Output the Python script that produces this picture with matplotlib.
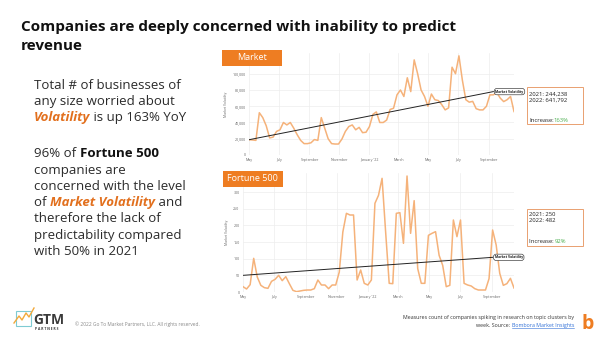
import numpy as np
import pandas as pd
import matplotlib
matplotlib.use('Agg')
from matplotlib import pyplot as plt
from matplotlib.patches import Rectangle
from matplotlib.text import Annotation
from matplotlib.lines import Line2D

plt.rcParams['font.family'] = ['Open Sans', 'DejaVu Sans']

W, H = 600, 337
ORANGE = '#EE7D22'
DARK_ORANGE = '#E2701E'
LINE = '#F5B27A'
TEXT = '#2b2b2b'

# weekly series, first point = start of May 2021
start_date = '2021-05-01'
market_values = [18800, 18500, 18000, 52000, 46000, 36000, 21000, 22000, 29000, 31000,
                 40000, 37000, 40000, 33000, 25000, 18000, 14000, 14000, 15000, 19000,
                 18000, 46000, 33000, 20000, 14000, 13500, 13500, 19600, 29000, 35000,
                 37000, 31000, 34000, 27500, 28000, 35000, 50000, 53000, 40000, 40000,
                 43000, 56000, 57500, 74000, 80000, 72000, 95000, 78000, 117000, 100000,
                 80000, 72000, 60000, 75000, 68000, 67000, 62000, 55500, 58000, 108000,
                 100000, 122000, 92000, 68000, 65000, 66000, 57000, 55500, 55500, 60000,
                 74000, 74000, 77000, 70000, 65700, 68000, 72000, 53500]
market_trend_weeks = [0, 71]
market_trend = [18800, 78000]
market_yticks = [0, 20000, 40000, 60000, 80000, 100000]

fortune_values = [16, 9, 22, 101, 45, 20, 13, 11, 32, 38,
                  50, 34, 46, 25, 5, 1, 3, 5, 6, 6,
                  10, 36, 21, 21, 10, 21, 21, 60, 180, 236,
                  231, 231, 36, 66, 26, 21, 36, 266, 290, 341,
                  180, 26, 25, 236, 238, 146, 348, 176, 274, 70,
                  26, 26, 170, 176, 181, 110, 80, 16, 20, 216,
                  166, 216, 26, 21, 18, 10, 6, 6, 6, 40,
                  186, 141, 56, 20, 25, 41, 12]
fortune_trend_weeks = [0, 70]
fortune_trend = [50, 104]
fortune_yticks = [0, 50, 100, 150, 200, 250, 300]

tick_months = ['2021-05-01', '2021-07-01', '2021-09-01', '2021-11-01', '2022-01-01',
               '2022-03-01', '2022-05-01', '2022-07-01', '2022-09-01']
tick_labels = ['May', 'July', 'September', 'November', "January '22",
               'March', 'May', 'July', 'September']

market_info = ['2021: 244,238', '2022: 641,792', 'Increase:', '163%']
fortune_info = ['2021: 250', '2022: 482', 'Increase: ', '92%']


def fx(x):
    return x / W


def fy(y):
    return 1 - y / H


fig = plt.figure(figsize=(6, 3.37), dpi=100)
fig.patch.set_facecolor('white')

# title
fig.text(fx(21), fy(31), 'Companies are deeply concerned with inability to predict',
         fontsize=11, weight='bold', color='#111', va='baseline')
fig.text(fx(21), fy(50.5), 'revenue', fontsize=11, weight='bold', color='#111', va='baseline')

STYLES = {'n': dict(color=TEXT),
          'b': dict(color='#111', weight='bold'),
          'o': dict(color=DARK_ORANGE, weight='bold', style='italic')}


def rich_line(x, y, parts, size=9.5):
    prev = None
    for txt, st in parts:
        if prev is None:
            prev = fig.text(fx(x), fy(y), txt, fontsize=size, va='baseline', **STYLES[st])
        else:
            a = Annotation(txt, xy=(1, 0), xycoords=prev, va='bottom', ha='left',
                           fontsize=size, **STYLES[st])
            fig.add_artist(a)
            prev = a


left_lines = [
    (89.3, [('Total # of businesses of', 'n')]),
    (105.3, [('any size worried about', 'n')]),
    (121.3, [('Volatility', 'o'), (' is up 163% YoY', 'n')]),
    (157.3, [('96% of ', 'n'), ('Fortune 500', 'b')]),
    (173.6, [('companies are', 'n')]),
    (189.9, [('concerned with the level', 'n')]),
    (206.2, [('of ', 'n'), ('Market Volatility', 'o'), (' and', 'n')]),
    (222.5, [('therefore the lack of', 'n')]),
    (238.8, [('predictability compared', 'n')]),
    (255.1, [('with 50% in 2021', 'n')]),
]
for y, parts in left_lines:
    rich_line(34, y, parts)


def draw_chart(box, values, trend_weeks, trend, yticks, ylim, fmt):
    ax = fig.add_axes([fx(box[0]), fy(box[3]), (box[2] - box[0]) / W, (box[3] - box[1]) / H])
    dates = pd.date_range(start_date, periods=len(values), freq='7D')
    ax.plot(dates, values, color=LINE, lw=1.1, solid_joinstyle='round', zorder=3)
    tdates = dates[trend_weeks]
    ax.plot(tdates, trend, color='#222', lw=0.7, zorder=4)
    ax.annotate('Market Volatility', xy=(tdates[-1], trend[-1]), xytext=(1.5, 0),
                textcoords='offset points', fontsize=2.4, weight='bold', color='#222',
                va='center', ha='left', zorder=5,
                bbox=dict(boxstyle='round,pad=0.35,rounding_size=0.8', fc='white', ec='#444', lw=0.5))
    ax.set_xlim(dates[0], dates[-1])
    ax.set_ylim(*ylim)
    ax.set_xticks(pd.to_datetime(tick_months))
    ax.set_xticklabels(tick_labels)
    ax.set_yticks(yticks)
    ax.set_yticklabels([fmt(v) for v in yticks])
    ax.tick_params(length=0, labelsize=2.6, labelcolor='#666', pad=2.5)
    ax.grid(color='#ededed', lw=0.5)
    for s in ax.spines.values():
        s.set_visible(False)
    ax.set_ylabel('Market Volatility', fontsize=2.4, color='#666', labelpad=3)
    ax.set_facecolor('none')
    return ax


draw_chart((249, 53.4, 514, 155), market_values, market_trend_weeks, market_trend,
           market_yticks, (0, 125000), lambda v: f'{v:,}')
draw_chart((243, 173, 514, 292), fortune_values, fortune_trend_weeks, fortune_trend,
           fortune_yticks, (0, 357), lambda v: f'{v}')


def label_box(x0, y0, x1, y1, txt):
    fig.add_artist(Rectangle((fx(x0), fy(y1)), (x1 - x0) / W, (y1 - y0) / H,
                             transform=fig.transFigure, fc=ORANGE, ec='none', zorder=6))
    fig.text(fx((x0 + x1) / 2), fy((y0 + y1) / 2), txt, color='white', fontsize=6.5,
             ha='center', va='center', zorder=7)


label_box(222, 50, 282, 65.5, 'Market')
label_box(222.5, 171, 283, 186.7, 'Fortune 500')


def info_box(x0, y0, x1, y1, lines, ys):
    fig.add_artist(Rectangle((fx(x0), fy(y1)), (x1 - x0) / W, (y1 - y0) / H,
                             transform=fig.transFigure, fc='white', ec='#E9A070', lw=0.7))
    fig.text(fx(x0 + 2.5), fy(ys[0]), lines[0], fontsize=4.2, color='#222', va='baseline')
    fig.text(fx(x0 + 2.5), fy(ys[1]), lines[1], fontsize=4.2, color='#222', va='baseline')
    t = fig.text(fx(x0 + 2.5), fy(ys[2]), lines[2], fontsize=4.2, color='#222', va='baseline')
    fig.add_artist(Annotation(lines[3], xy=(1, 0), xycoords=t, va='bottom', fontsize=4.2,
                              color='#4CAF50'))


info_box(526.5, 87, 582.5, 124.5, market_info, [95.5, 101.5, 121.5])
info_box(526.5, 209, 582.5, 246, fortune_info, [216, 222.5, 243])

# footer: GTM logo
fig.add_artist(Rectangle((fx(16), fy(326)), 15 / W, 15 / H, transform=fig.transFigure,
                         fc='none', ec='#7FCBD3', lw=0.8))
fig.add_artist(Line2D([fx(14), fx(19), fx(22), fx(26), fx(29), fx(34)],
                      [fy(323), fy(316), fy(320), fy(313), fy(317), fy(308)],
                      transform=fig.transFigure, color='#F2A93B', lw=1.0))
fig.text(fx(33), fy(324), 'GTM', fontsize=10, weight='bold', color='#3a3a3a', va='baseline')
fig.text(fx(35), fy(330.5), 'P A R T N E R S', fontsize=2.4, weight='bold', color='#3a3a3a',
         va='baseline')
fig.text(fx(75), fy(326), '\u00a9 2022 Go To Market Partners, LLC. All rights reserved.',
         fontsize=3.5, color='#888', va='baseline')

# footer: source note
fig.text(fx(574), fy(318.5), 'Measures count of companies spiking in research on topic clusters by',
         fontsize=3.8, color='#333', ha='right', va='baseline')
src = fig.text(fx(574), fy(327), 'Bombora Market Insights', fontsize=3.8, color='#2F6FD6',
               ha='right', va='baseline')
fig.add_artist(Annotation('week. Source:', xy=(0, 0), xycoords=src, xytext=(-1.2, 0),
                          textcoords='offset points', ha='right', va='bottom',
                          fontsize=3.8, color='#333'))
fig.canvas.draw()
bb = src.get_window_extent().transformed(fig.transFigure.inverted())
fig.add_artist(Line2D([bb.x0, bb.x1], [fy(328), fy(328)], transform=fig.transFigure,
                      color='#2F6FD6', lw=0.4))
fig.text(fx(588), fy(329), 'b', fontsize=14, weight='bold', color=ORANGE, ha='center',
         va='baseline')

fig.savefig('out.png', dpi=100)
